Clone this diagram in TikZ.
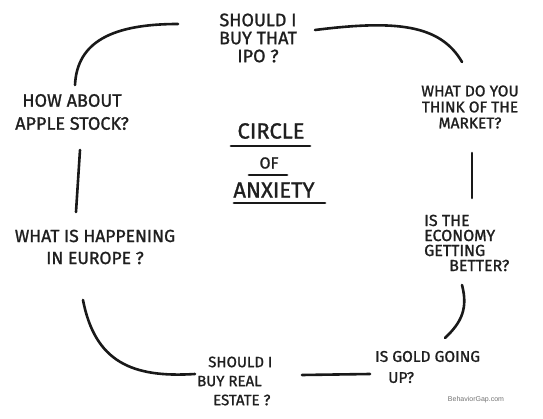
\documentclass[tikz,border=0pt]{standalone}
\usepackage{fontspec}
\setmainfont{Fira Sans}[FakeBold=1.2]
\newfontfamily\credfont{Liberation Sans}
\newcommand{\fs}[2]{\fontsize{#1}{#2}\selectfont}
\begin{document}
\begin{tikzpicture}[x=1pt,y=-1pt,
  qtext/.style={align=center,text=black!88,inner sep=0pt},
  stroke/.style={line width=2.6pt,line cap=round,black!90},
  uline/.style={line width=2.8pt,line cap=round,black!90}]
\useasboundingbox[fill=white] (0,0) rectangle (543,419);
% texts
\node[qtext,font=\fs{18}{18}] (ipo) at (258,38) {SHOULD I\\BUY THAT\\IPO ?};
\node[qtext,font=\fs{18}{23}] (apple) at (72,112) {HOW ABOUT\\APPLE STOCK?};
\node[qtext,font=\fs{15.5}{16}] (market) at (470,107) {WHAT DO YOU\\THINK OF THE\\MARKET?};
\node[qtext,font=\fs{22}{22}] (t1) at (271,131) {CIRCLE};
\node[qtext,font=\fs{16}{16}] (t2) at (269,163) {OF};
\node[qtext,font=\fs{22}{22}] (t3) at (274,190) {ANXIETY};
\node[qtext,font=\fs{17.5}{22}] (europe) at (95,247) {WHAT IS HAPPENING\\IN EUROPE ?};
\node[qtext,align=left,anchor=west,font=\fs{16}{15}] (economy) at (424,243) {IS THE\\ECONOMY\\GETTING\\\hspace*{25pt}BETTER?};
\node[qtext,align=left,anchor=west,font=\fs{15.5}{21}] (gold) at (375,367) {IS GOLD GOING\\\hspace*{13pt}UP?};
\node[qtext,align=left,anchor=west,font=\fs{15}{19}] (estate) at (197,381) {\hspace*{11pt}SHOULD I\\BUY REAL\\\hspace*{16pt}ESTATE ?};
\node[font=\credfont\fs{7}{8},text=black!55,inner sep=0pt] (credit) at (476,400) {BehaviorGap.com};
% underlines
\coordinate (u1a) at (231,146); \coordinate (u1b) at (310,146);
\coordinate (u2a) at (249,175); \coordinate (u2b) at (287,175);
\coordinate (u3a) at (234,203); \coordinate (u3b) at (325,203);
\draw[uline] (u1a) -- (u1b);
\draw[uline] (u2a) -- (u2b);
\draw[uline] (u3a) -- (u3b);
% connector ends
\coordinate (a1) at (75,85);  \coordinate (a2) at (178,24);
\coordinate (b1) at (315,30); \coordinate (b2) at (462,62);
\coordinate (c1) at (80,150); \coordinate (c2) at (76,212);
\coordinate (d1) at (472,153); \coordinate (d2) at (472,198);
\coordinate (e1) at (83,300); \coordinate (e2) at (195,374);
\coordinate (f1) at (302,375); \coordinate (f2) at (370,374);
\coordinate (g1) at (462,285); \coordinate (g2) at (445,338);
\draw[stroke] (a1) .. controls (77,42) and (112,24) .. (a2);
\draw[stroke] (b1) .. controls (395,20) and (440,24) .. (b2);
\draw[stroke] (c1) -- (c2);
\draw[stroke] (d1) -- (d2);
\draw[stroke] (e1) .. controls (95,362) and (132,378) .. (e2);
\draw[stroke] (f1) -- (f2);
\draw[stroke] (g1) .. controls (468,308) and (462,322) .. (g2);
\end{tikzpicture}
\end{document}
